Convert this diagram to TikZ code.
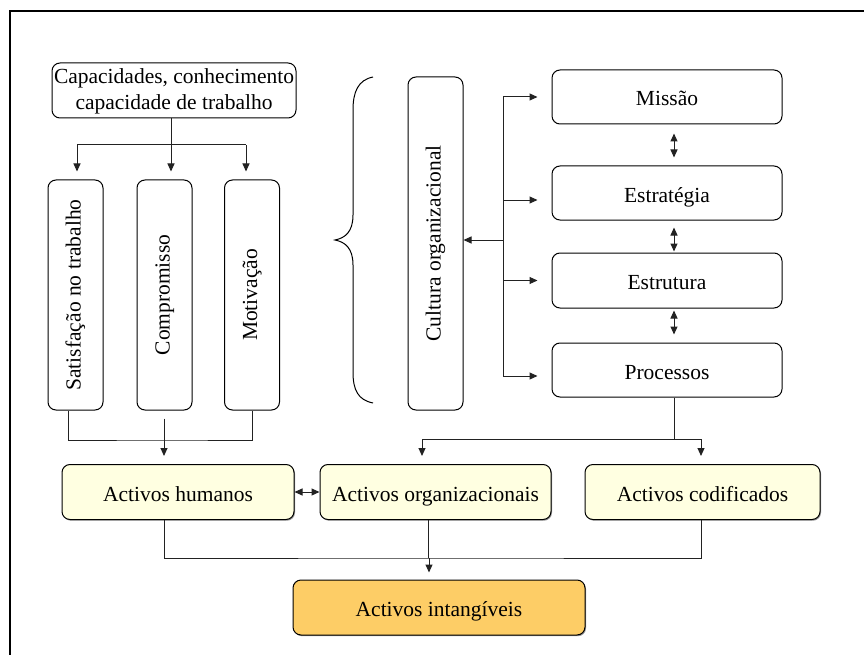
\documentclass[tikz,border=0pt]{standalone}
\usepackage{fontspec}
\setmainfont{Liberation Serif}
\usetikzlibrary{arrows.meta,shadows}
\definecolor{cream}{HTML}{FFFFE1}
\definecolor{gold}{HTML}{FDCD66}
\definecolor{ln}{HTML}{222222}
\begin{document}
\begin{tikzpicture}[x=1pt,y=-1pt,
  txt/.style={font=\fontsize{21.5}{26}\selectfont},
  box/.style={txt,draw=black,line width=1pt,rounded corners=8pt,inner sep=0pt,align=center},
  vone/.style={text height=14.5pt,text depth=4.5pt},
  hone/.style={text height=19pt,text depth=1pt},
  vbox/.style={box,vone,rotate=90,minimum height=55pt},
  hbox/.style={box,hone,minimum width=230pt,minimum height=54pt},
  asset/.style={box,hone,fill=cream,minimum height=55pt,
    drop shadow={shadow xshift=1pt,shadow yshift=-1.2pt,fill=black!70,opacity=0.6}},
  conn/.style={draw=ln,line width=1pt},
  arr/.style={conn,-{Triangle[length=8pt,width=7pt]}},
  darr/.style={conn,{Triangle[length=8pt,width=7pt]}-{Triangle[length=8pt,width=7pt]}}]
\useasboundingbox (0,0) rectangle (864,655);
% outer frame
\draw[line width=2.5pt] (10,660) -- (10,11) -- (870,11);

% individual side (rotated boxes: east is the top side, west the bottom,
% south the right side)
\node[box,minimum width=244pt,minimum height=55pt] (cap) at (174,90.5)
  {\rule{0pt}{17pt}Capacidades, conhecimento\\capacidade de trabalho};
\node[vbox,minimum width=230pt] (s1) at (75.5,295) {Satisfação no trabalho};
\node[vbox,minimum width=230pt] (s2) at (164.5,295) {Compromisso};
\node[vbox,minimum width=230pt] (s3) at (252,295) {Motivação};

% organisational side
\draw[line width=1pt] (373,77) .. controls (358,80) and (353,92) .. (353,110)
  -- (353,215) .. controls (353,232) and (345,238) .. (335,240)
  .. controls (345,242) and (353,248) .. (353,265)
  -- (353,372) .. controls (353,390) and (358,400) .. (373,403);
\node[vbox,minimum width=333pt] (cult) at (435.5,243.5) {Cultura organizacional};
\node[hbox] (mis) at (667,97) {Missão};
\node[hbox] (est) at (667,193) {Estratégia};
\node[hbox,minimum height=55pt] (estr) at (667,280.5) {Estrutura};
\node[hbox] (proc) at (667,370) {Processos};

% assets
\node[asset,minimum width=232pt] (ah) at (178,492) {Activos humanos};
\node[asset,minimum width=231pt] (ao) at (435.5,492) {Activos organizacionais};
\node[asset,minimum width=235pt] (ac) at (702.5,492) {Activos codificados};
\node[asset,fill=gold,minimum width=292pt] (ai) at (439,607.5) {Activos intangíveis};

% capacities -> three attitudes
\coordinate (j1) at (171,145);
\draw[conn] (cap.south -| j1) -- (j1);
\draw[conn] ([xshift=1.5pt]s1.east |- j1) -- ([xshift=-6pt]s3.east |- j1);
\draw[arr,shorten >=8pt] ([xshift=1.5pt]s1.east |- j1) -- ([xshift=1.5pt]s1.east);
\draw[arr,shorten >=8pt] ([xshift=6.5pt]s2.east |- j1) -- ([xshift=6.5pt]s2.east);
\draw[arr,shorten >=8pt] ([xshift=-6pt]s3.east |- j1) -- ([xshift=-6pt]s3.east);

% attitudes -> human assets
\coordinate (j2) at (164,440);
\draw[conn] ([xshift=-7.5pt]s1.west) |- (j2) -| (s3.west);
\draw[arr,shorten <=8pt,shorten >=8pt] (s2.west -| j2) -- ([xshift=-14pt]ah.north);

% bus from culture to the four elements
\coordinate (bus) at (503,240);
\coordinate (pe) at ([yshift=-7pt]est.west);
\coordinate (pp) at ([yshift=-6pt]proc.west);
\draw[conn] (mis.west -| bus) -- (pp -| bus);
\draw[arr] (bus) -- (cult.south |- bus);
\draw[arr,shorten >=14pt] (mis.west -| bus) -- (mis.west);
\draw[arr,shorten >=14pt] (pe -| bus) -- (pe);
\draw[arr,shorten >=14pt] (estr.west -| bus) -- (estr.west);
\draw[arr,shorten >=14pt] (pp -| bus) -- (pp);

% links between the elements
\draw[darr,shorten <=9pt,shorten >=8pt] ([xshift=7pt]mis.south) -- ([xshift=7pt]est.north);
\draw[darr,shorten <=7pt,shorten >=1pt] ([xshift=7pt]est.south) -- ([xshift=7pt]estr.north);
\draw[darr,shorten <=2pt,shorten >=8pt] ([xshift=7pt]estr.south) -- ([xshift=7pt]proc.north);

% processes -> organisational and codified assets
\coordinate (j3) at (674,439);
\draw[conn] ([xshift=7pt]proc.south) -- (j3);
\draw[conn] ([xshift=-13.5pt]ao.north |- j3) -- ([xshift=-1.5pt]ac.north |- j3);
\draw[arr,shorten >=8pt] ([xshift=-13.5pt]ao.north |- j3) -- ([xshift=-13.5pt]ao.north);
\draw[arr,shorten >=8pt] ([xshift=-1.5pt]ac.north |- j3) -- ([xshift=-1.5pt]ac.north);

% human <-> organisational
\draw[darr] (ah.east) -- (ao.west);

% assets -> intangible assets
\coordinate (j4) at (429,558);
\draw[conn] ([xshift=-14pt]ah.south) |- (j4) -| ([xshift=-1.5pt]ac.south);
\draw[conn] ([xshift=-7.5pt]ao.south) -- ([xshift=-7.5pt]ao.south |- j4);
\draw[arr,shorten >=7pt] (j4) -- ([xshift=-10pt]ai.north);
\end{tikzpicture}
\end{document}
